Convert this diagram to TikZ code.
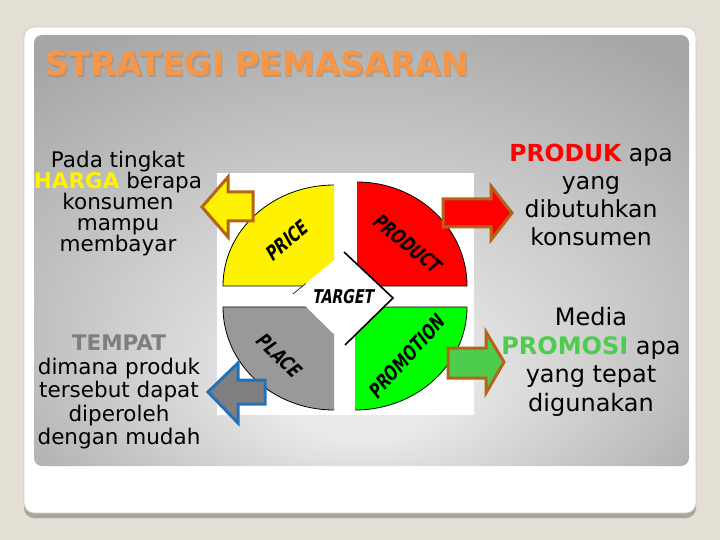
\documentclass[tikz,border=0pt]{standalone}
\usepackage{fontspec}
\setmainfont{DejaVu Sans}
\newfontfamily\handfont{DejaVu Sans}[FakeStretch=0.74,FakeSlant=0.18]
\usetikzlibrary{calc}
\definecolor{bgbeige}{HTML}{E4DFD5}
\definecolor{cardshadow}{HTML}{A9A59D}
\definecolor{cardedge}{HTML}{CFCBC3}
\definecolor{pla}{HTML}{EAEAEA}
\definecolor{plb}{HTML}{C6C6C6}
\definecolor{plc}{HTML}{A6A6A6}
\definecolor{titleorange}{HTML}{F79646}
\definecolor{titleshadow}{HTML}{9A7050}
\definecolor{arrowbrown}{HTML}{B4641A}
\definecolor{arrowblue}{HTML}{2272BA}
\definecolor{promogreen}{HTML}{4DCC4D}
\definecolor{qgreen}{HTML}{00FF00}
\definecolor{qgray}{HTML}{999999}
\definecolor{tempatgray}{HTML}{7F7F7F}
\pgfdeclareradialshading{panelshade}{\pgfpoint{0bp}{-18bp}}{color(0bp)=(pla); color(6bp)=(pla); color(22bp)=(plb); color(36bp)=(plc); color(50bp)=(plc)}
\tikzset{
  quarter/.style={fill=#1},
  qedge/.style={draw=black, line width=0.8pt},
  blockarrow/.style={line width=3pt, line join=miter, draw=arrowbrown},
  bodytext/.style={align=center, inner sep=0pt, text=black},
  handlabel/.style={inner sep=0pt, font=\handfont\bfseries\fontsize{20}{22}\selectfont},
}
\begin{document}
\begin{tikzpicture}[x=1pt,y=-1pt]
\useasboundingbox (0,0) rectangle (720,540);
\fill[bgbeige] (0,0) rectangle (720,540);
% card
\fill[cardshadow, rounded corners=10] (24,40) rectangle (696,518);
\fill[white, draw=cardedge, line width=0.8pt, rounded corners=10] (24,27) rectangle (696,513);
% panel
\shade[shading=panelshade, rounded corners=8] (34,35) rectangle (689,466);
% title
\node[anchor=base west, inner sep=0pt, font=\fontsize{33}{36}\selectfont\bfseries, text=titleshadow, opacity=0.35] at (46.5,77.5) {STRATEGI PEMASARAN};
\node[anchor=base west, inner sep=0pt, font=\fontsize{33}{36}\selectfont\bfseries, text=titleorange] (title) at (45,76) {STRATEGI PEMASARAN};
% central picture
\fill[white] (217,173) rectangle (474,415);
\fill[quarter=qgray] (334,307) -- (223,307) arc[start angle=180, end angle=90, x radius=111, y radius=103] -- cycle;
\draw[qedge] (334,307) -- (223,307) arc[start angle=180, end angle=90, x radius=111, y radius=103];
\fill[quarter=yellow] (334,286) -- (334,185) arc[start angle=270, end angle=180, x radius=111, y radius=101] -- cycle;
\draw[qedge] (334,185) arc[start angle=270, end angle=180, x radius=111, y radius=101] -- (334,286);
\fill[quarter=red] (357,286) -- (357,182) arc[start angle=270, end angle=360, x radius=110, y radius=104] -- cycle;
\draw[qedge] (357,182) arc[start angle=270, end angle=360, x radius=110, y radius=104] -- (357,286);
\fill[quarter=qgreen] (355,307) -- (467,307) arc[start angle=0, end angle=90, x radius=112, y radius=103] -- cycle;
\draw[qedge] (355,307) -- (467,307) arc[start angle=0, end angle=90, x radius=112, y radius=103];
% target diamond
\coordinate (dt) at (344,252);
\coordinate (dr) at (393,298);
\coordinate (db) at (345,345);
\coordinate (dl) at (293,294);
\fill[white] (dt) -- (dr) -- (db) -- (dl) -- cycle;
\draw[line width=1.6pt, line join=miter] (dt) -- (dr) -- (db);
\draw[line width=0.6pt] (dl) -- ($(dl)!0.25!(dt)$);
\node[handlabel, font=\handfont\bfseries\fontsize{19}{21}\selectfont] (target) at (342.5,297) {TARGET};
\node[handlabel, rotate=40] (price) at (286,241) {PRICE};
\node[handlabel, rotate=-39] (product) at (407,243) {PRODUCT};
\node[handlabel, rotate=-44] (place) at (279,355) {PLACE};
\node[handlabel, rotate=48] (promotion) at (406,357) {PROMOTION};
% block arrows
\filldraw[blockarrow, fill=yellow] (202,207) -- (228,177) -- (228,192) -- (253,192) -- (253,221) -- (228,221) -- (228,237) -- cycle;
\filldraw[blockarrow, fill=red] (512,213) -- (491,186) -- (491,199) -- (443,199) -- (443,227) -- (491,227) -- (491,240) -- cycle;
\filldraw[blockarrow, fill=promogreen] (504,362) -- (486,332) -- (486,348) -- (448,348) -- (448,378) -- (486,378) -- (486,393) -- cycle;
\filldraw[blockarrow, draw=arrowblue, fill=tempatgray] (208,392) -- (238,363) -- (238,380) -- (265,380) -- (265,404) -- (238,404) -- (238,423) -- cycle;
% texts
\node[bodytext, font=\fontsize{21.5}{21}\selectfont] (harga) at (118,204)
  {Pada tingkat\\ \textbf{\textcolor{yellow}{HARGA}} berapa\\ konsumen\\ mampu\\ membayar};
\node[bodytext, font=\fontsize{21.5}{23.5}\selectfont] (tempat) at (119,392)
  {\textbf{\textcolor{tempatgray}{TEMPAT}}\\ dimana produk\\ tersebut dapat\\ diperoleh\\ dengan mudah};
\node[bodytext, font=\fontsize{23.5}{28}\selectfont] (produk) at (591,195)
  {\textbf{\textcolor{red}{PRODUK}} apa\\ yang\\ dibutuhkan\\ konsumen};
\node[bodytext, font=\fontsize{24}{28.5}\selectfont] (promosi) at (591,362)
  {Media\\ \textbf{\textcolor{promogreen}{PROMOSI}} apa\\ yang tepat\\ digunakan};
\end{tikzpicture}
\end{document}
